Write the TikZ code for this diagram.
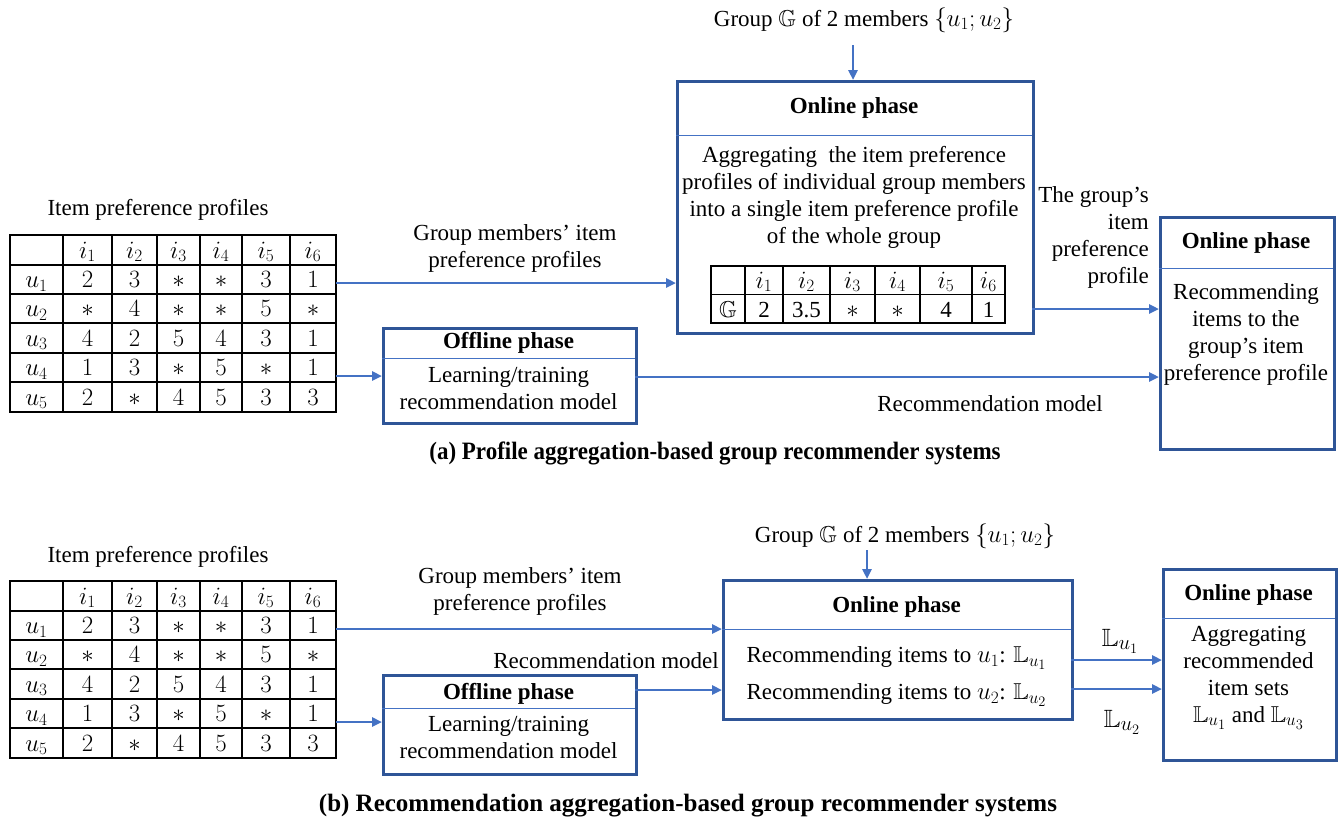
\documentclass[tikz,border=0pt]{standalone}
\usepackage{amssymb}
\usepackage{fontspec}
\setmainfont{Liberation Serif}
\usetikzlibrary{arrows.meta}
% larger sub/superscripts in math
\def\defaultscriptratio{.78}
\def\defaultscriptscriptratio{.6}

\definecolor{boxblue}{HTML}{2F5597}
\definecolor{arrowblue}{HTML}{4472C4}

\tikzset{
  conn/.style={draw=arrowblue, line width=2.6pt, -{Triangle[length=10pt,width=9pt]}},
  phase/.style={draw=boxblue, line width=2.8pt, inner sep=0pt, anchor=north west},
  divider/.style={draw=arrowblue, line width=0.9pt},
  gridline/.style={draw=black, line width=1.8pt, line cap=rect},
  txt/.style={font=\fontsize{23}{27}\selectfont, align=center, inner sep=0pt},
  ttl/.style={font=\fontsize{23}{27}\selectfont\bfseries, inner sep=0pt},
  cell/.style={font=\fontsize{23}{27}\selectfont, inner sep=0pt, text height=16pt, text depth=0pt},
  caption/.style={font=\fontsize{25}{29}\selectfont\bfseries, inner sep=0pt},
  setlabel/.style={font=\fontsize{25}{29}\selectfont, inner sep=0pt},
}

% rating matrix: #1 name prefix, #2 y of its top rule
\newcommand\prefgrid[2]{%
  \foreach \gx in {10,63,112,157,200,242,290,336}
    \draw[gridline] (\gx,#2) -- (\gx,#2+177);
  \foreach \gy in {0,30,59,88,118,147,177}
    \draw[gridline] (10,#2+\gy) -- (336,#2+\gy);
  \foreach \cx [count=\k] in {87.5,134.5,178.5,221,266,313}
    \node[cell] (#1-h\k) at (\cx,#2+15) {$i_{\k}$};
  \foreach \row [count=\r] in {{2,3,*,*,3,1},{*,4,*,*,5,*},{4,2,5,4,3,1},{1,3,*,5,*,1},{2,*,4,5,3,3}}{
    \pgfmathsetmacro\cy{#2+{44.5,73.5,103,132.5,162}[\r-1]}
    \node[cell] (#1-u\r) at (36.5,\cy) {$u_{\r}$};
    \foreach \v [count=\c] in \row {
      \pgfmathsetmacro\cx{{87.5,134.5,178.5,221,266,313}[\c-1]}
      \node[cell] (#1-\r-\c) at (\cx,\cy) {$\v$};
    }
  }
  \coordinate (#1-out1) at (336,#2+48);
  \coordinate (#1-out4) at (336,#2+141);
}

\begin{document}
\begin{tikzpicture}[x=1pt,y=-1pt]
\useasboundingbox (0,0) rectangle (1341,823);

% ---------------- (a) profile aggregation ----------------
\node[txt] (profA) at (158,210) {Item preference profiles};
\prefgrid{tA}{235}

\node[txt] (grpA) at (864,20) {Group $\mathbb{G}$ of 2 members $\{u_1; u_2\}$};
\coordinate (grpAin) at (853,45);

\node[phase, minimum width=356pt, minimum height=252pt] (onA) at (676,80) {};
\draw[divider] (676,135) -- (1032,135);
\node[ttl] (onAt) at (854,108) {Online phase};
\node[txt] (onAx) at (854,197.5) {Aggregating\ \ the item preference\\profiles of individual group members\\into a single item preference profile\\of the whole group};

% aggregated profile of the group
\foreach \gx in {711,745,783,830,875,920,972,1005}
  \draw[gridline] (\gx,266) -- (\gx,323);
\foreach \gy in {266,294.5,323}
  \draw[gridline] (711,\gy) -- (1005,\gy);
\node[cell] (gG) at (728,309.5) {$\mathbb{G}$};
\foreach \cx/\v [count=\k] in {764/2,806.5/3.5,852.5/$*$,897.5/$*$,946/4,988.5/1}{
  \node[cell] (gh\k) at (\cx,280) {$i_{\k}$};
  \node[cell] (gv\k) at (\cx,309.5) {\v};
}
\coordinate (onAout) at (1032,309);

\node[phase, minimum width=174pt, minimum height=232pt] (recA) at (1159,216) {};
\draw[divider] (1159,268) -- (1333,268);
\node[ttl] (recAt) at (1246,243) {Online phase};
\node[txt] (recAx) at (1246,334) {Recommending\\items to the\\group’s item\\preference profile};

\node[phase, minimum width=253pt, minimum height=95pt] (offA) at (382,327) {};
\draw[divider] (382,358) -- (635,358);
\node[ttl] (offAt) at (508.5,343) {Offline phase};
\node[txt] (offAx) at (508.5,388.5) {Learning/training\\recommendation model};
\coordinate (offAout) at (635,377);

\node[txt] (membA) at (515,248) {Group members’ item\\preference profiles};
\node[txt, align=right, anchor=east] (gpA) at (1149,237.5) {The group’s\\item\\preference\\profile};
\node[txt] (modA) at (990,404) {Recommendation model};

\draw[conn] (grpAin) -- (grpAin |- onA.north);
\draw[conn] (tA-out1) -- (tA-out1 -| onA.west);
\draw[conn] (tA-out4) -- (tA-out4 -| offA.west);
\draw[conn] (offAout) -- (offAout -| recA.west);
\draw[conn] (onAout) -- (onAout -| recA.west);

\node[caption, xscale=0.92] (capA) at (715,453) {(a) Profile aggregation-based group recommender systems};

% ---------------- (b) recommendation aggregation ----------------
\node[txt] (profB) at (158,557) {Item preference profiles};
\prefgrid{tB}{581}

\node[txt] (grpB) at (905,536) {Group $\mathbb{G}$ of 2 members $\{u_1; u_2\}$};
\coordinate (grpBin) at (867,550);

\node[phase, minimum width=349pt, minimum height=139pt] (onB) at (722,579) {};
\draw[divider] (722,629) -- (1071,629);
\node[ttl] (onBt) at (896.5,607) {Online phase};
\node[txt] (onBx1) at (896.5,658) {Recommending items to $u_1$: $\mathbb{L}_{u_1}$};
\node[txt] (onBx2) at (896.5,695) {Recommending items to $u_2$: $\mathbb{L}_{u_2}$};
\coordinate (onBout1) at (1071,660);
\coordinate (onBout2) at (1071,689);

\node[phase, minimum width=173pt, minimum height=191pt] (recB) at (1162,568) {};
\draw[divider] (1162,618) -- (1335,618);
\node[ttl] (recBt) at (1248.5,595) {Online phase};
\node[txt] (recBx) at (1248.5,677.5) {Aggregating\\recommended\\item sets\\$\mathbb{L}_{u_1}$ and $\mathbb{L}_{u_3}$};

\node[phase, minimum width=253pt, minimum height=99pt] (offB) at (382,674) {};
\draw[divider] (382,708) -- (635,708);
\node[ttl] (offBt) at (508.5,694) {Offline phase};
\node[txt] (offBx) at (508.5,737.5) {Learning/training\\recommendation model};
\coordinate (offBout) at (635,690);

\node[txt] (membB) at (520,591.5) {Group members’ item\\preference profiles};
\node[txt] (modB) at (606,661) {Recommendation model};
\node[setlabel] (lu1) at (1120,641) {$\mathbb{L}_{u_1}$};
\node[setlabel] (lu2) at (1122,722) {$\mathbb{L}_{u_2}$};

\draw[conn] (grpBin) -- (grpBin |- onB.north);
\draw[conn] (tB-out1) -- (tB-out1 -| onB.west);
\draw[conn] (tB-out4) -- (tB-out4 -| offB.west);
\draw[conn] (offBout) -- (offBout -| onB.west);
\draw[conn] (onBout1) -- (onBout1 -| recB.west);
\draw[conn] (onBout2) -- (onBout2 -| recB.west);

\node[caption] (capB) at (688,806) {(b) Recommendation aggregation-based group recommender systems};
\end{tikzpicture}
\end{document}
